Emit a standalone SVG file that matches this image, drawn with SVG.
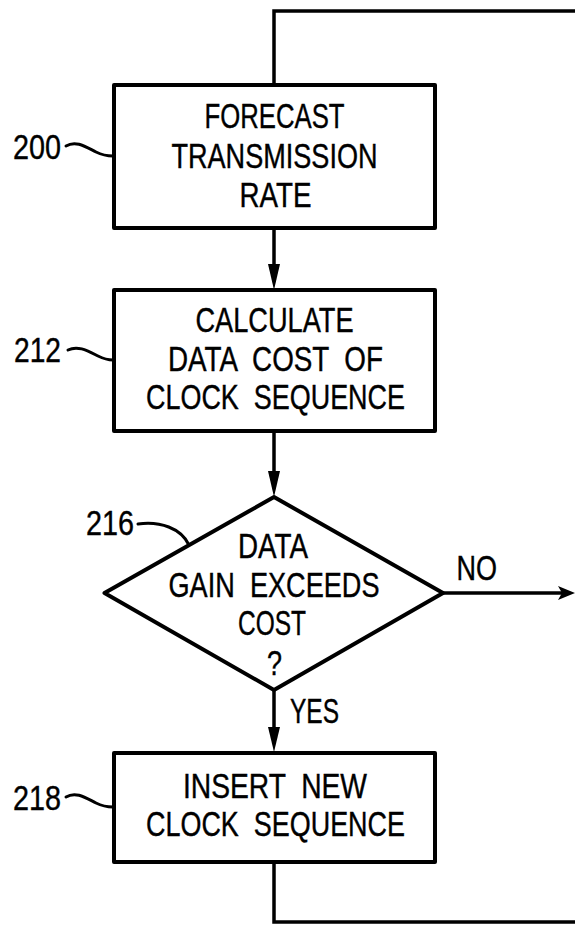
<svg xmlns="http://www.w3.org/2000/svg" width="575" height="925" viewBox="0 0 575 925">
  <defs>
    <style>
      .box { fill: #ffffff; stroke: #000000; stroke-width: 4; stroke-linejoin: round; }
      .line { fill: none; stroke: #000000; stroke-width: 3.5; stroke-linejoin: miter; }
      .lead { fill: none; stroke: #000000; stroke-width: 3; stroke-linecap: round; }
      .head { fill: #000000; stroke: none; }
      text { font-family: "Liberation Sans Narrow", "Liberation Sans", Arial, sans-serif; font-size: 35px; fill: #000000; stroke: #000000; stroke-width: 0.4; white-space: pre; }
      .c { text-anchor: middle; }
    </style>
  </defs>

  <!-- connectors -->
  <g id="connectors">
    <!-- loop return into the top of step 200 -->
    <polyline class="line" points="575,11 274,11 274,86" />
    <!-- 200 -> 212 -->
    <line class="line" x1="274" y1="228" x2="274" y2="268" />
    <path class="head" d="M268,264 L280,264 L274,290 Z" />
    <!-- 212 -> 216 -->
    <line class="line" x1="274" y1="431" x2="274" y2="476" />
    <path class="head" d="M268,471 L280,471 L274,497 Z" />
    <!-- 216 YES -> 218 -->
    <line class="line" x1="274" y1="690" x2="274" y2="732" />
    <path class="head" d="M268,727 L280,727 L274,752 Z" />
    <!-- 216 NO -> off to the right -->
    <line class="line" x1="443" y1="593" x2="564" y2="593" />
    <path class="head" d="M558,586 L575,593 L558,600 L562,593 Z" />
    <!-- 218 -> loop back -->
    <polyline class="line" points="274,862 274,922 575,922" />
  </g>

  <!-- step 200 -->
  <g id="n200">
    <rect class="box" x="114" y="85" width="321" height="143" />
    <text class="c" x="274.5" y="128" textLength="140" lengthAdjust="spacingAndGlyphs">FORECAST</text>
    <text class="c" x="274.5" y="168" textLength="206" lengthAdjust="spacingAndGlyphs">TRANSMISSION</text>
    <text class="c" x="275.5" y="207" textLength="72" lengthAdjust="spacingAndGlyphs">RATE</text>
    <text x="13" y="159" textLength="48" lengthAdjust="spacingAndGlyphs">200</text>
    <path class="lead" d="M66,146 C76,140 86,147 96,152 C102,155 107,156 113,156" />
  </g>

  <!-- step 212 -->
  <g id="n212">
    <rect class="box" x="114" y="290" width="321" height="141" />
    <text class="c" x="274.5" y="332" textLength="158" lengthAdjust="spacingAndGlyphs">CALCULATE</text>
    <text class="c" x="275.5" y="371" textLength="215" lengthAdjust="spacingAndGlyphs" xml:space="preserve">DATA  COST  OF</text>
    <text class="c" x="275.5" y="409" textLength="259" lengthAdjust="spacingAndGlyphs" xml:space="preserve">CLOCK  SEQUENCE</text>
    <text x="14" y="362" textLength="47" lengthAdjust="spacingAndGlyphs">212</text>
    <path class="lead" d="M68,350 C78,345 88,351 98,356 C104,359 108,360 113,360" />
  </g>

  <!-- decision 216 -->
  <g id="n216">
    <polygon class="box" points="274,497 443,593 274,690 104.5,593" />
    <text class="c" x="273" y="558" textLength="70" lengthAdjust="spacingAndGlyphs">DATA</text>
    <text class="c" x="274" y="597" textLength="211" lengthAdjust="spacingAndGlyphs" xml:space="preserve">GAIN  EXCEEDS</text>
    <text class="c" x="272" y="635" textLength="68" lengthAdjust="spacingAndGlyphs">COST</text>
    <text class="c" x="274.5" y="675" textLength="15" lengthAdjust="spacingAndGlyphs">?</text>
    <text x="86" y="535" textLength="48" lengthAdjust="spacingAndGlyphs">216</text>
    <path class="lead" d="M138,524 C160,521 181,528 189,545" />
    <text x="456.5" y="580" textLength="40.5" lengthAdjust="spacingAndGlyphs">NO</text>
    <text x="290" y="723" textLength="49" lengthAdjust="spacingAndGlyphs">YES</text>
  </g>

  <!-- step 218 -->
  <g id="n218">
    <rect class="box" x="114" y="753" width="321" height="109" />
    <text class="c" x="275" y="798" textLength="184" lengthAdjust="spacingAndGlyphs" xml:space="preserve">INSERT  NEW</text>
    <text class="c" x="275.5" y="836" textLength="259" lengthAdjust="spacingAndGlyphs" xml:space="preserve">CLOCK  SEQUENCE</text>
    <text x="13" y="810" textLength="48" lengthAdjust="spacingAndGlyphs">218</text>
    <path class="lead" d="M66,797 C76,791 86,798 96,803 C102,806 107,807 113,807" />
  </g>
</svg>
